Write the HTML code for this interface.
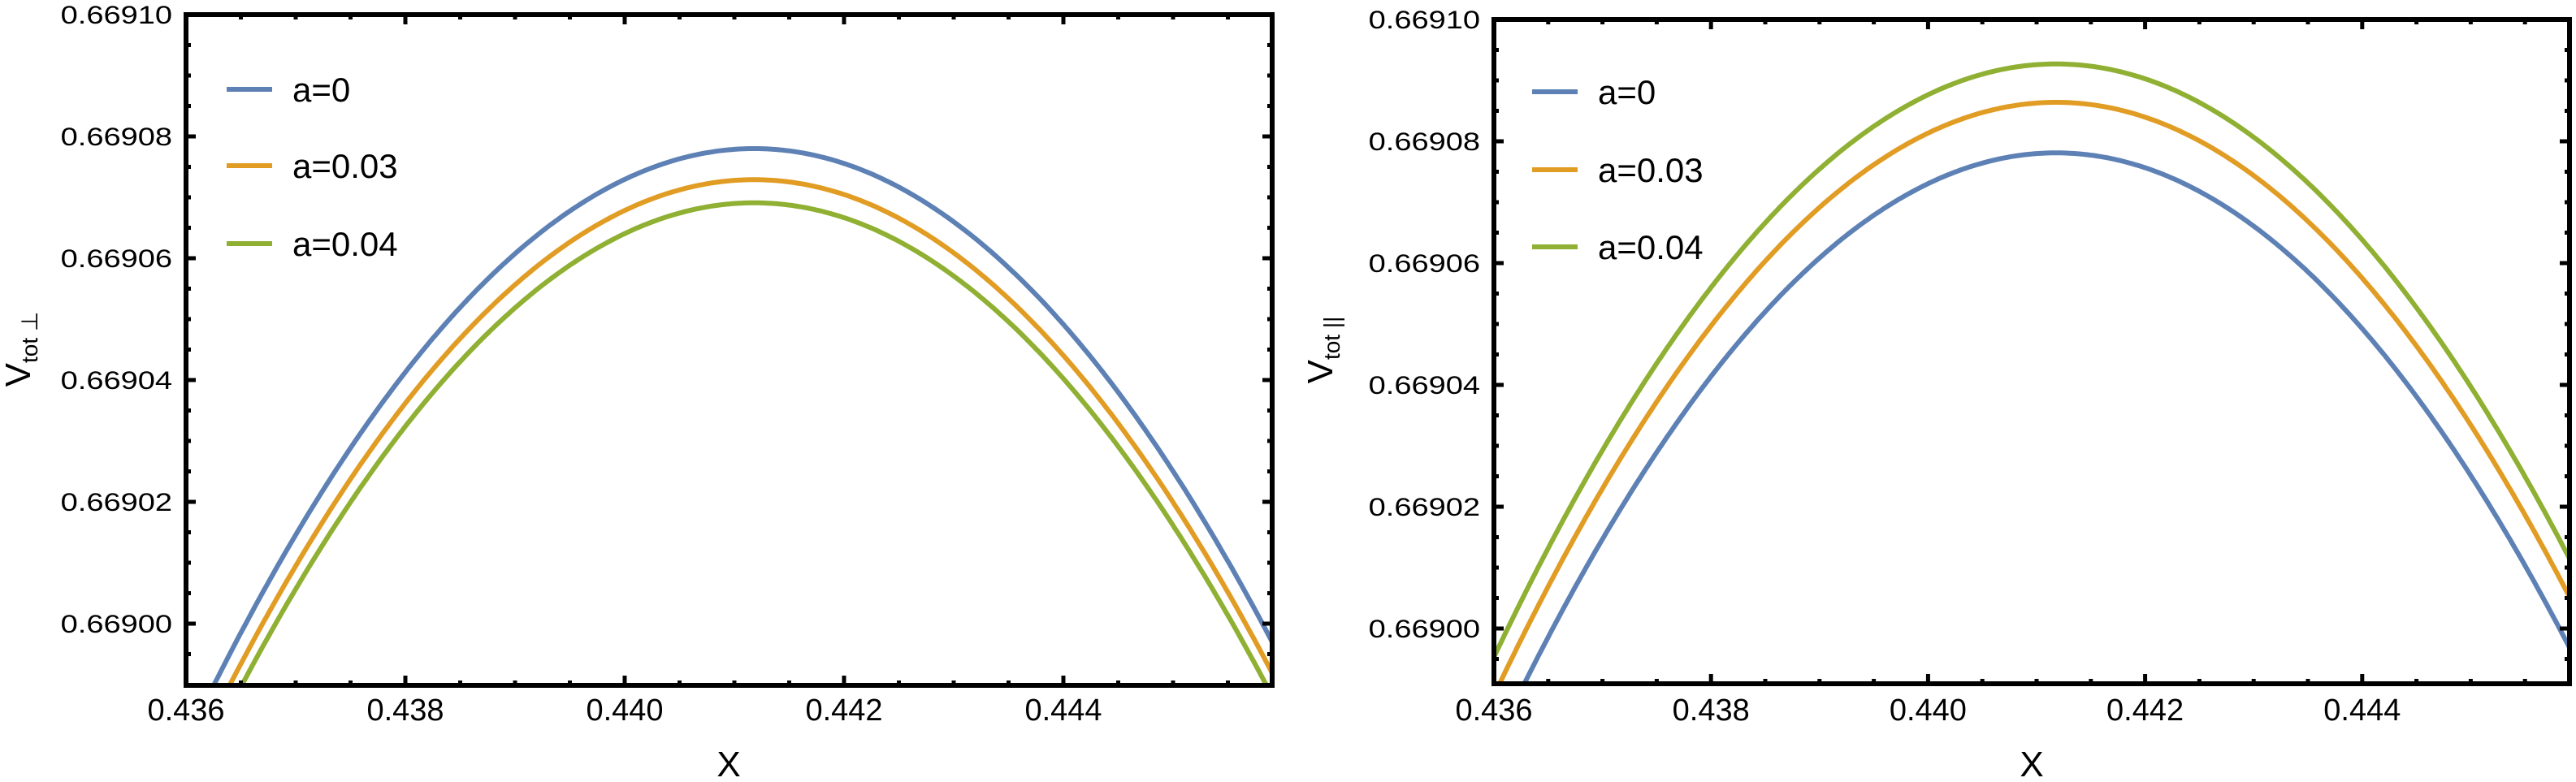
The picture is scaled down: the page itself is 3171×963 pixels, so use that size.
<!DOCTYPE html>
<html><head><meta charset="utf-8"><style>
html,body{margin:0;padding:0;background:#fff;width:3171px;height:963px;overflow:hidden;}
svg{display:block;font-family:"Liberation Sans",Arial,sans-serif;}
</style></head><body>
<svg id="s" width="3171" height="963" viewBox="0 0 3171 963" xmlns="http://www.w3.org/2000/svg">
<defs>
<clipPath id="c1"><rect x="229" y="18" width="1337" height="826"/></clipPath>
<clipPath id="c2"><rect x="1839" y="24" width="1324" height="818"/></clipPath>
</defs>
<g id="g"></g>
<text x="897" y="956" font-size="44" text-anchor="middle">X</text>
<text x="2501" y="956" font-size="44" text-anchor="middle">X</text>
<text transform="translate(37,430) rotate(-90)" text-anchor="middle"><tspan font-size="44">V</tspan><tspan font-size="28" dy="9">tot ⊥</tspan></text>
<text transform="translate(1640,431) rotate(-90)" text-anchor="middle"><tspan font-size="44">V</tspan><tspan font-size="28" dy="9">tot ||</tspan></text>
</svg>
<script>
var g=document.getElementById('g'),h='';
function plot(L,T,R,B,top,clip,peaks,legX,legY){
  var x0=0.436;
  var sx=(R-L)>1330?135000:133600;
  var X=function(v){return L+(v-x0)*sx;};
  var Y=function(v){return top+(0.66910-v)/0.00002*150;};
  var cols=['#5E81B5','#E19C24','#8FB032'],names=['a=0','a=0.03','a=0.04'];
  h+='<g clip-path="url(#'+clip+')">';
  for(var i=0;i<3;i++){var p='';for(var j=0;j<=400;j++){var x=0.4355+j*0.011/400;var v=peaks[i]-3.63*Math.pow(x-0.44118,2);p+=(j?'L':'M')+X(x).toFixed(1)+','+Y(v).toFixed(1);}
    h+='<path d="'+p+'" fill="none" stroke="'+cols[i]+'" stroke-width="6"/>';}
  h+='</g>';
  for(var k=0;k<=20;k++){var xv=0.436+k*0.0005;var px=X(xv);if(px>R-2)break;var len=(k%4==0)?12:6;
    h+='<line x1="'+px+'" y1="'+B+'" x2="'+px+'" y2="'+(B-len)+'" stroke="#000" stroke-width="5"/>';
    h+='<line x1="'+px+'" y1="'+T+'" x2="'+px+'" y2="'+(T+len)+'" stroke="#000" stroke-width="5"/>';
    if(k%4==0)h+='<text x="'+px+'" y="887" font-size="38" text-anchor="middle">'+xv.toFixed(3)+'</text>';}
  for(var k=0;k<=30;k++){var yv=0.66910-k*0.000005;var py=Y(yv);if(py>B-2)break;var len=(k%4==0)?12:6;
    h+='<line x1="'+L+'" y1="'+py+'" x2="'+(L+len)+'" y2="'+py+'" stroke="#000" stroke-width="5"/>';
    h+='<line x1="'+R+'" y1="'+py+'" x2="'+(R-len)+'" y2="'+py+'" stroke="#000" stroke-width="5"/>';
    if(k%4==0)h+='<text transform="translate('+(L-17)+','+(py+11)+') scale(1,0.83)" font-size="38" text-anchor="end">'+yv.toFixed(5)+'</text>';}
  h+='<rect x="'+L+'" y="'+T+'" width="'+(R-L)+'" height="'+(B-T)+'" fill="none" stroke="#000" stroke-width="6"/>';
  for(var i=0;i<3;i++){h+='<line x1="'+legX+'" y1="'+legY[i]+'" x2="'+(legX+56)+'" y2="'+legY[i]+'" stroke="'+cols[i]+'" stroke-width="6"/>';
    h+='<text x="'+(legX+81)+'" y="'+(legY[i]+15)+'" font-size="42">'+names[i]+'</text>';}
}
plot(229,18,1566,844,18,'c1',[0.669078,0.6690729,0.6690691],279,[110,204,300]);
plot(1839,24,3163,842,24,'c2',[0.6690781,0.6690864,0.6690927],1886,[113,209,304]);
g.innerHTML=h;
</script>
</body></html>
